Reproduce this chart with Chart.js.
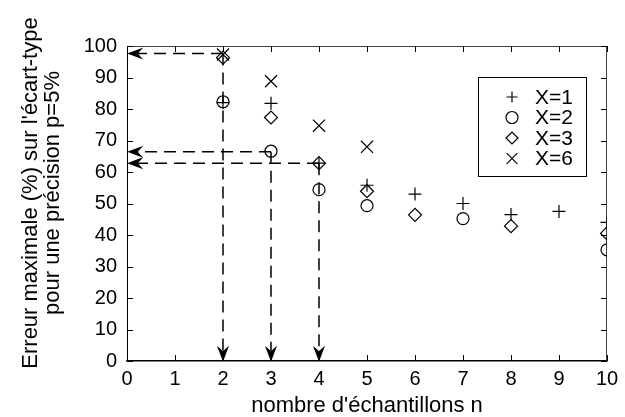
<!DOCTYPE html>
<html>
<head>
<meta charset="utf-8">
<script src="https://cdn.jsdelivr.net/npm/chart.js@4/dist/chart.umd.min.js"></script>
<style>
html,body{margin:0;padding:0;background:#fff;}
canvas{display:block;}
</style>
</head>
<body>
<canvas id="c" width="625" height="417"></canvas>
<script>
// ---- data ----
const xTickValues = [0,1,2,3,4,5,6,7,8,9,10];
const yTickValues = [0,10,20,30,40,50,60,70,80,90,100];

const labelX1 = 'X=1';
const nX1 = [2,3,4,5,6,7,8,9,10];
const valX1 = [82,81.8,62.8,55.8,53,50,46.5,47.5,44];

const labelX2 = 'X=2';
const nX2 = [2,3,4,5,7,10];
const valX2 = [82.3,66.6,54.4,49.3,45.2,35.3];

const labelX3 = 'X=3';
const nX3 = [2,3,4,5,6,8,10];
const valX3 = [96.3,77.3,62.8,53.9,46.4,42.8,40.5];

const labelX6 = 'X=6';
const nX6 = [2,3,4,5];
const valX6 = [97.3,88.8,74.7,68];

// dashed guide arrows (n, level)
const arrowN = [2,3,4];
const arrowLevel = [97.6,66.4,62.8];

const xTitle = "nombre d'échantillons n";
const yTitleLines = ["Erreur maximale (%) sur l'écart-type", "pour une précision p=5%"];

const FONT = '"Liberation Sans", Arial, Helvetica, sans-serif';

function pts(ns, vs){ return ns.map((n,i)=>({x:n, y:vs[i]})); }

const markerCommon = {
  borderColor:'#000', backgroundColor:'rgba(0,0,0,0)', showLine:false,
  borderWidth:1.2, pointBorderWidth:1.2
};

const datasets = [
  Object.assign({label:labelX1, data:pts(nX1,valX1), pointStyle:'cross', pointRadius:6.5}, markerCommon),
  Object.assign({label:labelX2, data:pts(nX2,valX2), pointStyle:'circle', pointRadius:6}, markerCommon),
  Object.assign({label:labelX3, data:pts(nX3,valX3), pointStyle:'rectRot', pointRadius:6.5}, markerCommon),
  Object.assign({label:labelX6, data:pts(nX6,valX6), pointStyle:'crossRot', pointRadius:8.5}, markerCommon)
];

function arrowHead(ctx, x, y, dir){
  const L = 12, W = 4.5;
  ctx.beginPath();
  if (dir === 'left'){
    ctx.moveTo(x + L, y - W); ctx.lineTo(x, y); ctx.lineTo(x + L, y + W);
    ctx.lineTo(x + L - 4, y); ctx.closePath();
  } else {
    ctx.moveTo(x - W, y - L); ctx.lineTo(x, y); ctx.lineTo(x + W, y - L);
    ctx.lineTo(x, y - L + 4); ctx.closePath();
  }
  ctx.fill();
  ctx.stroke();
}

const decoPlugin = {
  id:'deco',
  beforeDatasetsDraw(chart){
    const {ctx, chartArea:a, scales:{x, y}} = chart;
    ctx.save();
    // frame top/right
    ctx.strokeStyle = '#444'; ctx.lineWidth = 1;
    ctx.beginPath();
    ctx.moveTo(a.left, a.top + 0.5); ctx.lineTo(a.right, a.top + 0.5);
    ctx.moveTo(a.right - 0.5, a.top); ctx.lineTo(a.right - 0.5, a.bottom);
    ctx.stroke();
    // inward ticks
    ctx.strokeStyle = '#000'; ctx.lineWidth = 1;
    const tl = 6;
    ctx.beginPath();
    yTickValues.forEach(v=>{
      const py = Math.round(y.getPixelForValue(v)) + 0.5;
      ctx.moveTo(a.left, py); ctx.lineTo(a.left + tl, py);
      ctx.moveTo(a.right, py); ctx.lineTo(a.right - tl, py);
    });
    xTickValues.forEach(v=>{
      const px = Math.round(x.getPixelForValue(v)) + 0.5;
      ctx.moveTo(px, a.bottom); ctx.lineTo(px, a.bottom - tl);
      ctx.moveTo(px, a.top); ctx.lineTo(px, a.top + tl);
    });
    ctx.stroke();
    // dashed arrows
    ctx.strokeStyle = '#000'; ctx.fillStyle = '#000'; ctx.lineWidth = 1.5;
    arrowN.forEach((n,i)=>{
      const px = x.getPixelForValue(n);
      const py = y.getPixelForValue(arrowLevel[i]);
      ctx.setLineDash([12,7]);
      ctx.beginPath();
      ctx.moveTo(px, py); ctx.lineTo(a.left + 8, py);
      ctx.moveTo(px, py); ctx.lineTo(px, a.bottom - 8);
      ctx.stroke();
      ctx.setLineDash([]);
      ctx.lineWidth = 1.3;
      arrowHead(ctx, a.left + 2, py, 'left');
      arrowHead(ctx, px, a.bottom - 1, 'down');
      ctx.lineWidth = 1.5;
    });
    ctx.restore();
  },
  afterDraw(chart){
    const {ctx} = chart;
    ctx.save();
    // y title (two lines, rotated)
    ctx.fillStyle = '#000';
    ctx.font = '22px ' + FONT;
    ctx.textAlign = 'center'; ctx.textBaseline = 'middle';
    ctx.translate(31, 193);
    ctx.rotate(-Math.PI/2);
    yTitleLines.forEach((t,i)=> ctx.fillText(t, 0, i*21.5));
    ctx.restore();

    // legend
    ctx.save();
    const bx = 478.5, by = 77.5, bw = 108, bh = 99;
    ctx.fillStyle = '#fff'; ctx.fillRect(bx, by, bw, bh);
    ctx.strokeStyle = '#000'; ctx.lineWidth = 1;
    ctx.strokeRect(bx, by, bw, bh);
    chart.data.datasets.forEach((ds,i)=>{
      const ly = 97 + i*20.5;
      ctx.strokeStyle = '#000'; ctx.lineWidth = 1.2;
      ctx.fillStyle = 'rgba(0,0,0,0)';
      const r = ds.pointStyle === 'crossRot' ? 7.5 : (ds.pointStyle === 'cross' ? 5.5 : 6);
      Chart.helpers.drawPoint(ctx, {pointStyle: ds.pointStyle, radius: r, rotation: 0, borderWidth: 1.2}, 512, ly);
      ctx.fillStyle = '#000';
      ctx.font = '21px ' + FONT;
      ctx.textAlign = 'left'; ctx.textBaseline = 'middle';
      ctx.fillText(ds.label, 535, ly + 1);
    });
    ctx.restore();
  }
};

new Chart(document.getElementById('c'), {
  type:'scatter',
  data:{datasets},
  plugins:[decoPlugin],
  options:{
    responsive:false,
    animation:false,
    devicePixelRatio:1,
    layout:{padding:{left:0, right:18, top:46, bottom:0}},
    plugins:{legend:{display:false}, tooltip:{enabled:false}},
    scales:{
      x:{
        type:'linear', min:0, max:10,
        afterBuildTicks(s){ s.ticks = xTickValues.map(v=>({value:v})); },
        afterFit(s){ s.height = 56; },
        grid:{display:false, drawTicks:false},
        border:{display:true, color:'#000', width:1.5},
        ticks:{color:'#000', font:{family:FONT, size:20}, padding:6, maxRotation:0, autoSkip:false},
        title:{display:true, text:xTitle, color:'#000', font:{family:FONT, size:22, lineHeight:1}, padding:{top:0, bottom:0}}
      },
      y:{
        type:'linear', min:0, max:100,
        afterBuildTicks(s){ s.ticks = yTickValues.map(v=>({value:v})); },
        afterFit(s){ s.width = 127; },
        grid:{display:false, drawTicks:false},
        border:{display:true, color:'#000', width:1},
        ticks:{color:'#000', font:{family:FONT, size:20}, padding:10, autoSkip:false},
        title:{display:false}
      }
    }
  }
});
</script>
</body>
</html>
